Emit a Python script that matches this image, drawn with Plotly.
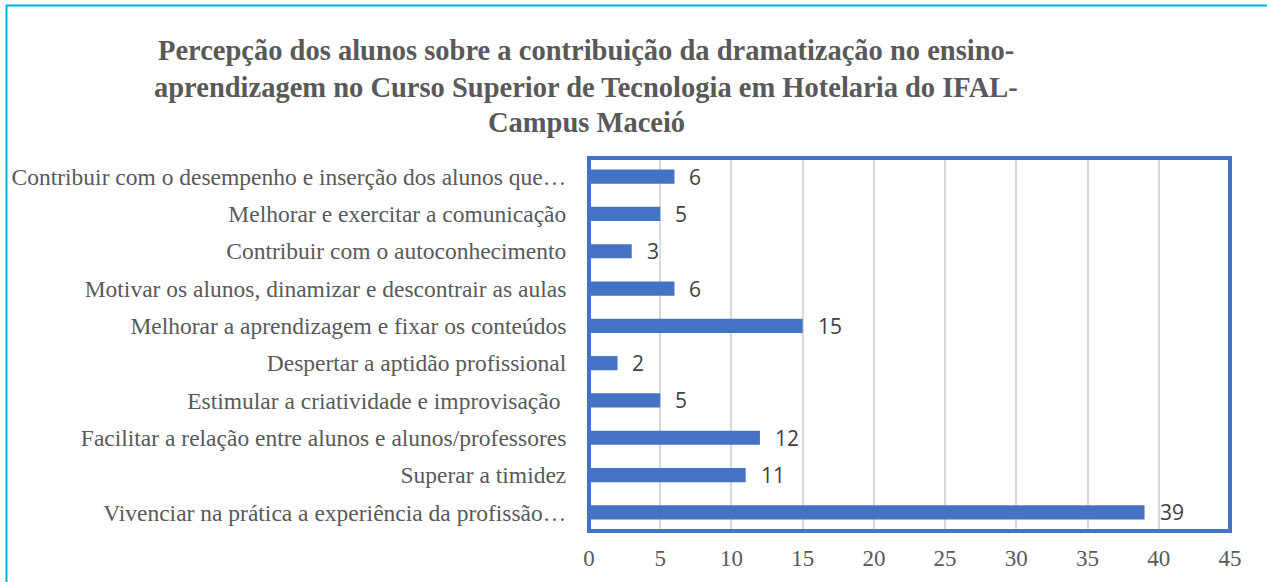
import plotly.graph_objects as go

categories = [
    "Contribuir com o desempenho e inserção dos alunos que…",
    "Melhorar e exercitar a comunicação",
    "Contribuir com o autoconhecimento",
    "Motivar os alunos, dinamizar e descontrair as aulas",
    "Melhorar a aprendizagem e fixar os conteúdos",
    "Despertar a aptidão profissional",
    "Estimular a criatividade e improvisação ",
    "Facilitar a relação entre alunos e alunos/professores",
    "Superar a timidez",
    "Vivenciar na prática a experiência da profissão…",
]
values = [6, 5, 3, 6, 15, 2, 5, 12, 11, 39]
x_ticks = [0, 5, 10, 15, 20, 25, 30, 35, 40, 45]

title_lines = [
    "Percepção dos alunos sobre a contribuição da dramatização no ensino-",
    "aprendizagem no Curso Superior de Tecnologia em Hotelaria do IFAL-",
    "Campus Maceió",
]

BLUE = "#4472C4"
GRAY = "#595959"
SERIF = "Liberation Serif"

W, H = 1267, 582
L, R, T, B = 589, 37, 158, 51
PW, PH = W - L - R, H - T - B

fig = go.Figure()
fig.add_trace(go.Bar(
    x=values, y=categories, orientation="h",
    marker=dict(color=BLUE, line=dict(width=0)),
    hoverinfo="x+y",
))

for v, c in zip(values, categories):
    fig.add_annotation(x=v, y=c, xref="x", yref="y", text=str(v),
                       showarrow=False, xanchor="left", xshift=13,
                       font=dict(family="Open Sans", size=21, color="#404040"))

title_y = [50, 87, 123]
for line, py in zip(title_lines, title_y):
    fig.add_annotation(x=(586 - L) / PW, y=1 - (py - T) / PH, xref="paper", yref="paper",
                       text="<b>" + line + "</b>", showarrow=False,
                       xanchor="center", yanchor="middle",
                       font=dict(family=SERIF, size=28.5, color=GRAY))

fig.update_layout(
    width=W, height=H,
    margin=dict(l=L, r=R, t=T, b=B, autoexpand=False),
    paper_bgcolor="white", plot_bgcolor="white",
    bargap=0.62,
    showlegend=False,
    xaxis=dict(range=[0, 45], tickvals=x_ticks, showgrid=True, gridcolor="#D9D9D9", gridwidth=1.5,
               zeroline=False, showline=False, ticks="", automargin=False,
               tickfont=dict(family=SERIF, size=23, color=GRAY),
               ticklabelstandoff=11),
    yaxis=dict(autorange="reversed", showgrid=False, zeroline=False, ticks="", automargin=False,
               showline=True, linecolor="#D9D9D9", linewidth=1,
               tickfont=dict(family=SERIF, size=23.5, color=GRAY),
               ticklabelstandoff=17),
    shapes=[
        dict(type="rect", xref="paper", yref="paper", x0=0, x1=1, y0=0, y1=1,
             line=dict(color=BLUE, width=4), layer="above"),
        dict(type="rect", xref="paper", yref="paper",
             x0=(6.5 - L) / PW, x1=1.3, y0=-0.5, y1=1 + (T - 5.5) / PH,
             line=dict(color="#00B0F0", width=2), layer="above"),
    ],
)

fig.write_html("out.html", config={"displayModeBar": False},
               post_script="document.body.style.margin='0';document.body.style.overflow='hidden';")
